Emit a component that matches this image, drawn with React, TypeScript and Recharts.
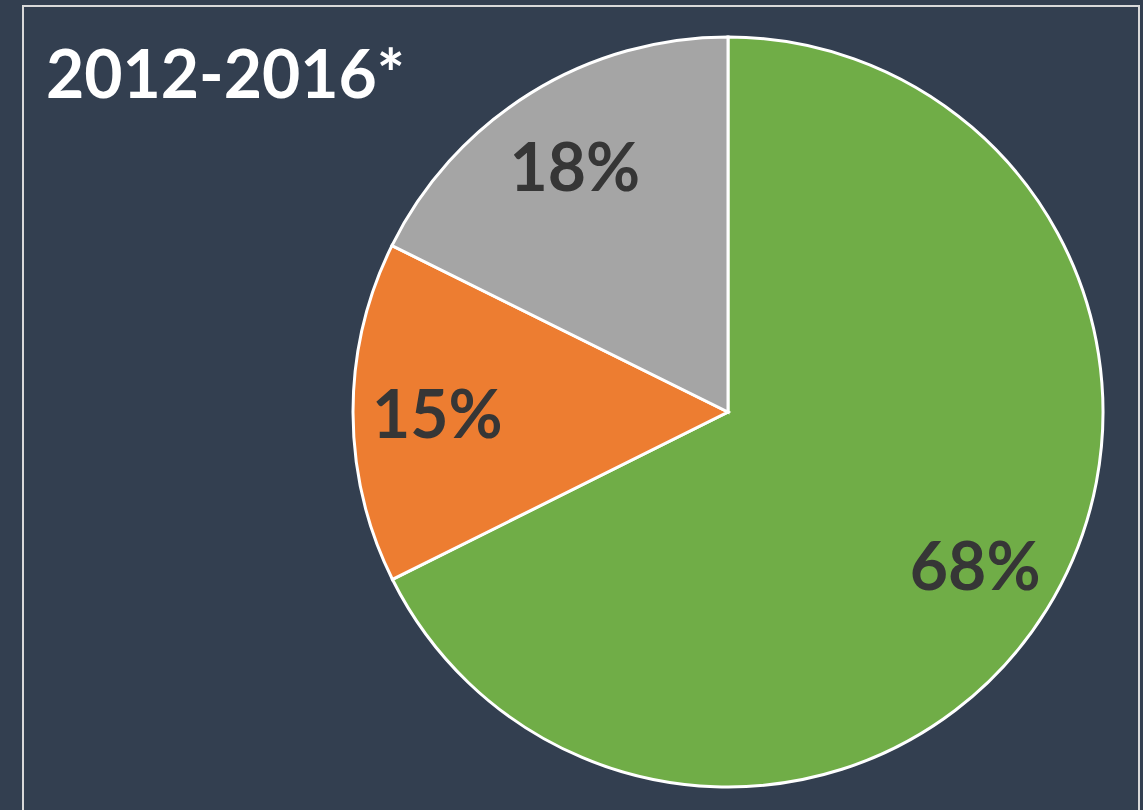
import { PieChart, Pie, Cell } from "recharts";

const categories = ["Green", "Orange", "Gray"];
const shares = [67.7, 14.7, 17.7];
const shareLabels = ["68%", "15%", "18%"];
const sliceColors = ["#70AD47", "#ED7D31", "#A5A5A5"];

const data = categories.map((name, i) => ({
  name,
  value: shares[i],
  label: shareLabels[i],
}));

const RADIAN = Math.PI / 180;

function renderLabel(props: any) {
  const { cx, cy, midAngle, outerRadius, index } = props;
  const r = outerRadius * 0.775;
  const x = cx + r * Math.cos(-midAngle * RADIAN);
  const y = cy + r * Math.sin(-midAngle * RADIAN);
  return (
    <text
      x={x}
      y={y}
      fill="#363636"
      textAnchor="middle"
      dominantBaseline="central"
      fontFamily="Lato, sans-serif"
      fontWeight={700}
      fontSize={66}
    >
      {data[index].label}
    </text>
  );
}

export default function App() {
  return (
    <div
      style={{
        position: "absolute",
        left: 0,
        top: 0,
        width: 1143,
        height: 810,
        background: "#333F50",
        overflow: "hidden",
      }}
    >
      <div
        style={{
          position: "absolute",
          left: 22,
          top: 5,
          width: 1118,
          height: 820,
          border: "2px solid #D9D9D9",
          boxSizing: "border-box",
        }}
      />
      <div
        style={{
          position: "absolute",
          left: 46,
          top: 33,
          color: "#FFFFFF",
          fontFamily: "Lato, sans-serif",
          fontWeight: 700,
          fontSize: 66,
          lineHeight: "80px",
        }}
      >
        2012-2016*
      </div>
      <PieChart
        width={1143}
        height={810}
        margin={{ top: 0, right: 0, bottom: 0, left: 0 }}
        style={{ position: "absolute", left: 0, top: 0 }}
      >
        <Pie
          data={data}
          dataKey="value"
          cx={728}
          cy={412}
          outerRadius={375}
          startAngle={90}
          endAngle={-270}
          stroke="#FFFFFF"
          strokeWidth={3}
          label={renderLabel}
          labelLine={false}
          isAnimationActive={false}
        >
          {data.map((d, i) => (
            <Cell key={d.name} fill={sliceColors[i]} />
          ))}
        </Pie>
      </PieChart>
    </div>
  );
}
